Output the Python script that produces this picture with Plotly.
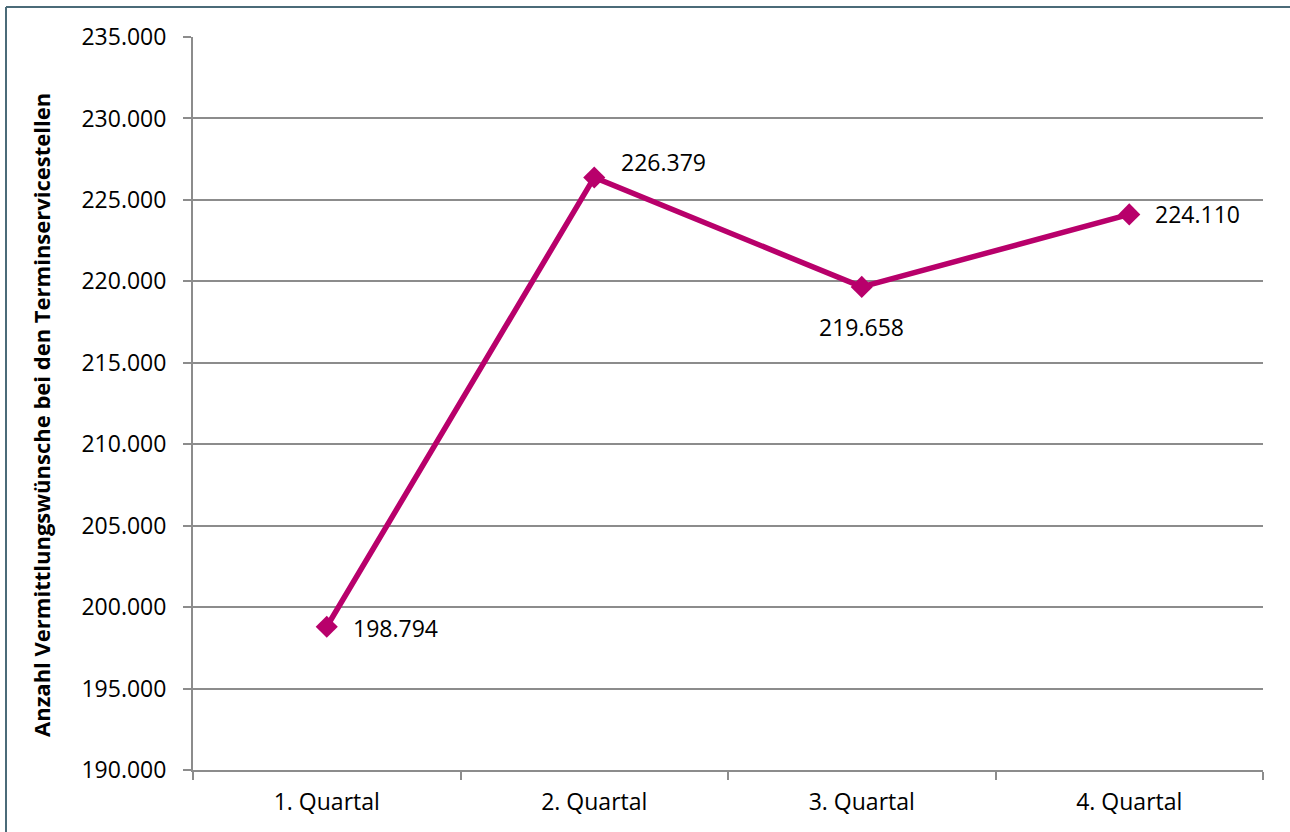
import plotly.graph_objects as go

# Quarterly appointment requests handled by the Terminservicestellen
quarters = ["1. Quartal", "2. Quartal", "3. Quartal", "4. Quartal"]
requests = [198794, 226379, 219658, 224110]
y_title = "Anzahl Vermittlungswünsche bei den Terminservicestellen"

# label placement per point: (xanchor, xshift, yshift)
label_pos = [("left", 24, -1), ("left", 25, 15), ("center", 0, -40), ("left", 24, 0)]

y_ticks = list(range(190000, 235001, 5000))
y_tick_text = [f"{v:,}".replace(",", ".") for v in y_ticks]

LINE_COLOR = "#b8006b"
GRID_COLOR = "#8c8c8c"
FONT = "Open Sans"

fig = go.Figure()
fig.add_trace(go.Scatter(
    x=quarters,
    y=requests,
    mode="lines+markers",
    line=dict(color=LINE_COLOR, width=5.5),
    marker=dict(symbol="diamond", size=17, color=LINE_COLOR),
    showlegend=False,
    hoverinfo="x+y",
))

for q, v, (anchor, xs, ys) in zip(quarters, requests, label_pos):
    fig.add_annotation(
        x=q, y=v, text=f"{v:,}".replace(",", "."),
        showarrow=False, xanchor=anchor, yanchor="middle",
        xshift=xs, yshift=ys,
        font=dict(family=FONT, size=23, color="#000000"),
    )

# outer frame of the chart area (left and top edges)
W, H = 1290, 832
L, R, T, B = 193, 27, 37, 62
pw, ph = W - L - R, H - T - B
def px(x):
    return (x - L) / pw
def py(y):
    return (H - B - y) / ph

# vertical axis title
fig.add_annotation(
    xref="paper", yref="paper", x=px(41), y=py(415),
    text=f"<b>{y_title}</b>", textangle=-90, showarrow=False,
    xanchor="center", yanchor="middle",
    font=dict(family=FONT, size=22, color="#000000"),
)

frame = "#4b6b78"
fig.add_shape(type="line", xref="paper", yref="paper",
              x0=px(6), x1=px(6), y0=py(7), y1=py(840),
              line=dict(color=frame, width=2))
fig.add_shape(type="line", xref="paper", yref="paper",
              x0=px(6), x1=px(1300), y0=py(7), y1=py(7),
              line=dict(color=frame, width=2))

fig.update_layout(
    width=W, height=H,
    margin=dict(l=L, r=R, t=T, b=B),
    paper_bgcolor="white",
    plot_bgcolor="white",
    font=dict(family=FONT, size=23, color="#000000"),
    xaxis=dict(
        type="category",
        range=[-0.5, 3.5],
        tickson="boundaries",
        showgrid=False,
        ticks="outside", ticklen=8, tickwidth=2, tickcolor=GRID_COLOR,
        showline=True, linecolor=GRID_COLOR, linewidth=2,
        tickfont=dict(family=FONT, size=23),
        ticklabelstandoff=10,
        zeroline=False,
    ),
    yaxis=dict(
        range=[190000, 235000],
        tickmode="array", tickvals=y_ticks, ticktext=y_tick_text,
        showgrid=True, gridcolor=GRID_COLOR, gridwidth=2,
        ticks="outside", ticklen=8, tickwidth=2, tickcolor=GRID_COLOR,
        showline=True, linecolor=GRID_COLOR, linewidth=2,
        tickfont=dict(family=FONT, size=23),
        ticklabelstandoff=12,
        zeroline=False,
    ),
)

fig.write_html("out.html")
